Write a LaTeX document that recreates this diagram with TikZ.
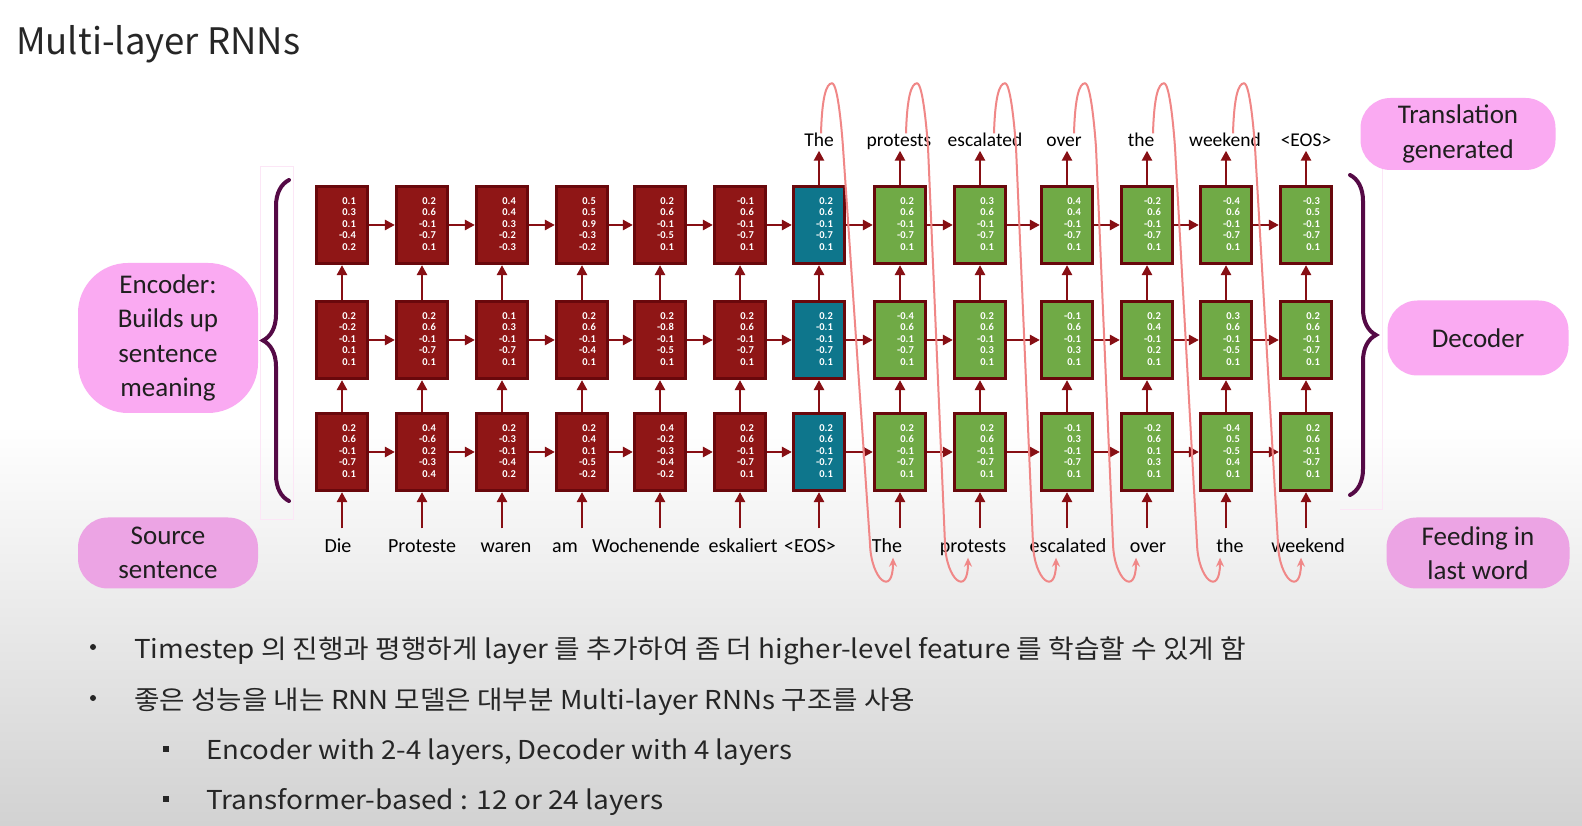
\documentclass[tikz,border=0pt]{standalone}
\usepackage{fontspec}
\usepackage{graphicx}
\usetikzlibrary{arrows.meta,decorations.pathreplacing,calc}
\newfontfamily\krfont{Noto Sans CJK KR}
\newfontfamily\labelfont{Carlito}
\definecolor{encred}{RGB}{143,22,22}
\definecolor{cellborder}{RGB}{105,8,12}
\definecolor{eosteal}{RGB}{14,118,140}
\definecolor{decgreen}{RGB}{112,170,70}
\definecolor{arrowred}{RGB}{135,15,20}
\definecolor{feedpink}{RGB}{240,135,135}
\definecolor{labelpink}{RGB}{250,170,242}
\definecolor{labeldark}{RGB}{236,164,228}
\definecolor{bracepurple}{RGB}{85,10,70}
\definecolor{framepink}{RGB}{252,230,246}
\definecolor{bggray}{RGB}{210,210,210}
\definecolor{textgray}{RGB}{38,38,38}
\newcommand{\vals}[5]{\hspace*{11pt}\begin{tabular}{@{}r@{}}#1\\#2\\#3\\#4\\#5\end{tabular}}
\tikzset{
  cell/.style={draw=cellborder, line width=3.2pt, minimum width=51pt, minimum height=77pt,
    inner sep=0pt, text=white, font=\labelfont\bfseries\fontsize{10.5}{11.6}\selectfont},
  enc/.style={cell, fill=encred},
  eos/.style={cell, fill=eosteal},
  dec/.style={cell, fill=decgreen},
  flow/.style={-{Triangle[length=10pt,width=10pt]}, color=arrowred, line width=2.6pt},
  feed/.style={-{Stealth[length=9pt,width=8pt]}, color=feedpink, line width=2pt},
  word/.style={font=\labelfont\fontsize{20}{24}\selectfont, inner sep=0pt, text height=14pt, text depth=5pt},
  outword/.style={font=\labelfont\fontsize{19.5}{23}\selectfont, inner sep=0pt, text height=13pt, text depth=4pt},
  lab/.style={fill=labelpink, align=center, inner sep=0pt, rounded corners=30pt,
    font=\labelfont\fontsize{27}{34.5}\selectfont, text=black!88},
  brace/.style={decorate, decoration={brace, amplitude=26pt}, draw=bracepurple, line width=4pt, line cap=round},
  bullettext/.style={anchor=base west, inner sep=0pt, text=textgray, font=\krfont\fontsize{26}{30}\selectfont}
}
\begin{document}
\begin{tikzpicture}[x=1pt,y=1pt]
\useasboundingbox (0,0) rectangle (1582,825);
% background
\fill[white] (0,0) rectangle (1582,825);
\fill[top color=white, bottom color=bggray] (0,400) rectangle (1582,0);
\draw[framepink, line width=1pt] (260,305) rectangle (293,658);
\draw[framepink, line width=1pt] (1382,663) -- (1382,315) -- (1340,315);

% labels
\node[lab, minimum width=180pt, minimum height=150pt, rounded corners=50pt] (enclab) at (168,487) {Encoder:\\Builds up\\sentence\\meaning};
\node[lab, fill=labeldark, minimum width=180pt, minimum height=71pt] (srclab) at (168,272) {Source\\sentence};
\node[lab, minimum width=195pt, minimum height=72pt] (translab) at (1458,691) {Translation\\generated};
\node[lab, minimum width=181pt, minimum height=75pt] (declab) at (1478,487) {Decoder};
\node[lab, fill=labeldark, minimum width=183pt, minimum height=71pt] (feedlab) at (1478,272) {Feeding in\\last word};

% top layer
\node[enc] (t1) at (342,600) {\vals{0.1}{0.3}{0.1}{-0.4}{0.2}};
\node[enc] (t2) at (422,600) {\vals{0.2}{0.6}{-0.1}{-0.7}{0.1}};
\node[enc] (t3) at (502,600) {\vals{0.4}{0.4}{0.3}{-0.2}{-0.3}};
\node[enc] (t4) at (582,600) {\vals{0.5}{0.5}{0.9}{-0.3}{-0.2}};
\node[enc] (t5) at (660,600) {\vals{0.2}{0.6}{-0.1}{-0.5}{0.1}};
\node[enc] (t6) at (740,600) {\vals{-0.1}{0.6}{-0.1}{-0.7}{0.1}};
\node[eos] (t7) at (819,600) {\vals{0.2}{0.6}{-0.1}{-0.7}{0.1}};
\node[dec] (t8) at (900,600) {\vals{0.2}{0.6}{-0.1}{-0.7}{0.1}};
\node[dec] (t9) at (980,600) {\vals{0.3}{0.6}{-0.1}{-0.7}{0.1}};
\node[dec] (t10) at (1067,600) {\vals{0.4}{0.4}{-0.1}{-0.7}{0.1}};
\node[dec] (t11) at (1147,600) {\vals{-0.2}{0.6}{-0.1}{-0.7}{0.1}};
\node[dec] (t12) at (1226,600) {\vals{-0.4}{0.6}{-0.1}{-0.7}{0.1}};
\node[dec] (t13) at (1306,600) {\vals{-0.3}{0.5}{-0.1}{-0.7}{0.1}};
% middle layer
\node[enc] (m1) at (342,485) {\vals{0.2}{-0.2}{-0.1}{0.1}{0.1}};
\node[enc] (m2) at (422,485) {\vals{0.2}{0.6}{-0.1}{-0.7}{0.1}};
\node[enc] (m3) at (502,485) {\vals{0.1}{0.3}{-0.1}{-0.7}{0.1}};
\node[enc] (m4) at (582,485) {\vals{0.2}{0.6}{-0.1}{-0.4}{0.1}};
\node[enc] (m5) at (660,485) {\vals{0.2}{-0.8}{-0.1}{-0.5}{0.1}};
\node[enc] (m6) at (740,485) {\vals{0.2}{0.6}{-0.1}{-0.7}{0.1}};
\node[eos] (m7) at (819,485) {\vals{0.2}{-0.1}{-0.1}{-0.7}{0.1}};
\node[dec] (m8) at (900,485) {\vals{-0.4}{0.6}{-0.1}{-0.7}{0.1}};
\node[dec] (m9) at (980,485) {\vals{0.2}{0.6}{-0.1}{0.3}{0.1}};
\node[dec] (m10) at (1067,485) {\vals{-0.1}{0.6}{-0.1}{0.3}{0.1}};
\node[dec] (m11) at (1147,485) {\vals{0.2}{0.4}{-0.1}{0.2}{0.1}};
\node[dec] (m12) at (1226,485) {\vals{0.3}{0.6}{-0.1}{-0.5}{0.1}};
\node[dec] (m13) at (1306,485) {\vals{0.2}{0.6}{-0.1}{-0.7}{0.1}};
% bottom layer
\node[enc] (b1) at (342,373) {\vals{0.2}{0.6}{-0.1}{-0.7}{0.1}};
\node[enc] (b2) at (422,373) {\vals{0.4}{-0.6}{0.2}{-0.3}{0.4}};
\node[enc] (b3) at (502,373) {\vals{0.2}{-0.3}{-0.1}{-0.4}{0.2}};
\node[enc] (b4) at (582,373) {\vals{0.2}{0.4}{0.1}{-0.5}{-0.2}};
\node[enc] (b5) at (660,373) {\vals{0.4}{-0.2}{-0.3}{-0.4}{-0.2}};
\node[enc] (b6) at (740,373) {\vals{0.2}{0.6}{-0.1}{-0.7}{0.1}};
\node[eos] (b7) at (819,373) {\vals{0.2}{0.6}{-0.1}{-0.7}{0.1}};
\node[dec] (b8) at (900,373) {\vals{0.2}{0.6}{-0.1}{-0.7}{0.1}};
\node[dec] (b9) at (980,373) {\vals{0.2}{0.6}{-0.1}{-0.7}{0.1}};
\node[dec] (b10) at (1067,373) {\vals{-0.1}{0.3}{-0.1}{-0.7}{0.1}};
\node[dec] (b11) at (1147,373) {\vals{-0.2}{0.6}{0.1}{0.3}{0.1}};
\node[dec] (b12) at (1226,373) {\vals{-0.4}{0.5}{-0.5}{0.4}{0.1}};
\node[dec] (b13) at (1306,373) {\vals{0.2}{0.6}{-0.1}{-0.7}{0.1}};

% words in
\node[word] (s1) at (338,277) {Die};
\node[word] (s2) at (422,277) {Proteste};
\node[word] (s3) at (506,277) {waren};
\node[word] (s4) at (565,277) {am};
\node[word] (s5) at (646,277) {Wochenende};
\node[word] (s6) at (743,277) {eskaliert};
\node[word] (s7) at (810,277) {<EOS>};
\node[word] (d8) at (887,277) {The};
\node[word] (d9) at (973,277) {protests};
\node[word] (d10) at (1068,277) {escalated};
\node[word] (d11) at (1148,277) {over};
\node[word] (d12) at (1230,277) {the};
\node[word] (d13) at (1308,277) {weekend};
% words out
\node[outword] (o7) at (819,683) {The};
\node[outword] (o8) at (899,683) {protests};
\node[outword] (o9) at (985,683) {escalated};
\node[outword] (o10) at (1064,683) {over};
\node[outword] (o11) at (1141,683) {the};
\node[outword] (o12) at (1225,683) {weekend};
\node[outword] (o13) at (1306,683) {<EOS>};

% recurrence
\path[flow]
(t1) edge (t2) (t2) edge (t3) (t3) edge (t4) (t4) edge (t5) (t5) edge (t6) (t6) edge (t7)
(t7) edge (t8) (t8) edge (t9) (t9) edge (t10) (t10) edge (t11) (t11) edge (t12) (t12) edge (t13)
(m1) edge (m2) (m2) edge (m3) (m3) edge (m4) (m4) edge (m5) (m5) edge (m6) (m6) edge (m7)
(m7) edge (m8) (m8) edge (m9) (m9) edge (m10) (m10) edge (m11) (m11) edge (m12) (m12) edge (m13)
(b1) edge (b2) (b2) edge (b3) (b3) edge (b4) (b4) edge (b5) (b5) edge (b6) (b6) edge (b7)
(b7) edge (b8) (b8) edge (b9) (b9) edge (b10) (b10) edge (b11) (b11) edge (b12) (b12) edge (b13);
% layers
\path[flow]
(b1) edge (m1) (b2) edge (m2) (b3) edge (m3) (b4) edge (m4) (b5) edge (m5) (b6) edge (m6) (b7) edge (m7)
(b8) edge (m8) (b9) edge (m9) (b10) edge (m10) (b11) edge (m11) (b12) edge (m12) (b13) edge (m13)
(m1) edge (t1) (m2) edge (t2) (m3) edge (t3) (m4) edge (t4) (m5) edge (t5) (m6) edge (t6) (m7) edge (t7)
(m8) edge (t8) (m9) edge (t9) (m10) edge (t10) (m11) edge (t11) (m12) edge (t12) (m13) edge (t13);
% inputs
\path[flow, shorten <=10pt]
(b1.south |- s1.north) edge (b1.south) (b2.south |- s2.north) edge (b2.south)
(b3.south |- s3.north) edge (b3.south) (b4.south |- s4.north) edge (b4.south)
(b5.south |- s5.north) edge (b5.south) (b6.south |- s6.north) edge (b6.south)
(b7.south |- s7.north) edge (b7.south) (b8.south |- d8.north) edge (b8.south)
(b9.south |- d9.north) edge (b9.south) (b10.south |- d10.north) edge (b10.south)
(b11.south |- d11.north) edge (b11.south) (b12.south |- d12.north) edge (b12.south)
(b13.south |- d13.north) edge (b13.south);
% outputs
\path[flow]
(t7.north) edge (t7.north |- o7.south) (t8.north) edge (t8.north |- o8.south)
(t9.north) edge (t9.north |- o9.south) (t10.north) edge (t10.north |- o10.south)
(t11.north) edge (t11.north |- o11.south) (t12.north) edge (t12.north |- o12.south)
(t13.north) edge (t13.north |- o13.south);

% feeding the last word back in
\draw[feed] ([xshift=2pt]o7.north) .. controls +(1,35) and +(-6,0) .. ++(11,50) .. controls +(6,0) and +(-1,14) .. ++(11,-64)
  -- ([xshift=-17pt,yshift=14pt]d8.south) .. controls +(1,-36) and +(0,-40) .. ([xshift=6pt]d8.south);
\draw[feed] ([xshift=7pt]o8.north) .. controls +(1,35) and +(-6,0) .. ++(11,50) .. controls +(6,0) and +(-1,14) .. ++(11,-64)
  -- ([xshift=-28pt,yshift=14pt]d9.south) .. controls +(1,-36) and +(0,-40) .. ([xshift=-5pt]d9.south);
\draw[feed] ([xshift=9pt]o9.north) .. controls +(1,35) and +(-6,0) .. ++(11,50) .. controls +(6,0) and +(-1,14) .. ++(11,-64)
  -- ([xshift=-35pt,yshift=14pt]d10.south) .. controls +(1,-36) and +(0,-40) .. ([xshift=-12pt]d10.south);
\draw[feed] ([xshift=10pt]o10.north) .. controls +(1,35) and +(-6,0) .. ++(11,50) .. controls +(6,0) and +(-1,14) .. ++(11,-64)
  -- ([xshift=-35pt,yshift=14pt]d11.south) .. controls +(1,-36) and +(0,-40) .. ([xshift=-12pt]d11.south);
\draw[feed] ([xshift=12pt]o11.north) .. controls +(1,35) and +(-6,0) .. ++(11,50) .. controls +(6,0) and +(-1,14) .. ++(11,-64)
  -- ([xshift=-33pt,yshift=14pt]d12.south) .. controls +(1,-36) and +(0,-40) .. ([xshift=-10pt]d12.south);
\draw[feed] ([xshift=8pt]o12.north) .. controls +(1,35) and +(-6,0) .. ++(11,50) .. controls +(6,0) and +(-1,14) .. ++(11,-64)
  -- ([xshift=-30pt,yshift=14pt]d13.south) .. controls +(1,-36) and +(0,-40) .. ([xshift=-7pt]d13.south);

% braces
\draw[brace] (289,324) -- (289,645);
\draw[brace] (1350,650) -- (1350,330);

% title and notes
\node[anchor=base west, inner sep=0pt, text=textgray, font=\krfont\fontsize{36.5}{40}\selectfont] (title) at (16,770) {Multi-layer RNNs};
\fill[textgray] (93,178) circle (3);
\fill[textgray] (93,127) circle (3);
\fill[textgray] (163,73) rectangle (169,79);
\fill[textgray] (163,23) rectangle (169,29);
\node[bullettext] (note1) at (134,167) {\resizebox{1112pt}{\height}{Timestep 의 진행과 평행하게 layer 를 추가하여 좀 더 higher-level feature 를 학습할 수 있게 함}};
\node[bullettext] (note2) at (134,116) {\resizebox{781pt}{\height}{좋은 성능을 내는 RNN 모델은 대부분 Multi-layer RNNs 구조를 사용}};
\node[bullettext] (note3) at (206,66) {\resizebox{586pt}{\height}{Encoder with 2-4 layers, Decoder with 4 layers}};
\node[bullettext] (note4) at (206,16) {\resizebox{457pt}{\height}{Transformer-based : 12 or 24 layers}};
\end{tikzpicture}
\end{document}
